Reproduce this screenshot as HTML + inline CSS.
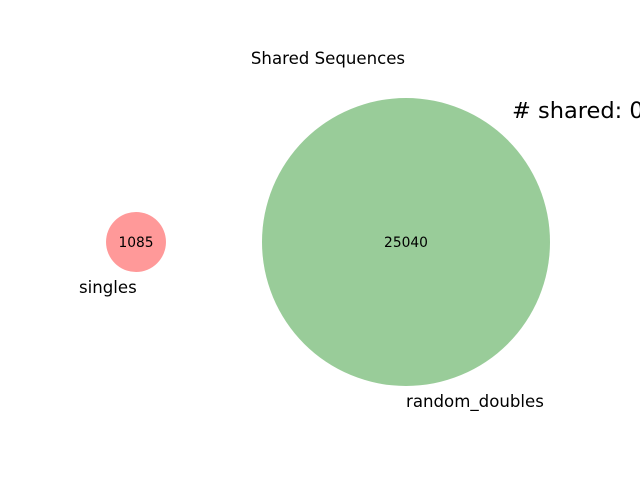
<!DOCTYPE html>
<html><head><meta charset="utf-8"><style>
body{margin:0;background:#fff;}
svg text{font-family:"DejaVu Sans","Liberation Sans",sans-serif;fill:#000;}
</style></head><body>
<svg width="640" height="480" viewBox="0 0 640 480">
<text x="328" y="64" font-size="16.6" text-anchor="middle">Shared Sequences</text>
<text x="512" y="118" font-size="22.5"># shared: 0</text>
<g id="venn"></g>
</svg>
<script>
const setNames = ["singles", "random_doubles"];
const setCounts = [1085, 25040];
const sharedCount = 0;
const colors = ["#ff9999", "#99cc99"];
const g = document.getElementById('venn');
const ns = "http://www.w3.org/2000/svg";
const maxR = 144, cy = 242;
const radii = setCounts.map(c => maxR * Math.sqrt(c / Math.max(...setCounts)));
const centers = [136, 406];
setNames.forEach((name, i) => {
  const c = document.createElementNS(ns, 'circle');
  c.setAttribute('cx', centers[i]); c.setAttribute('cy', cy); c.setAttribute('r', radii[i]);
  c.setAttribute('fill', colors[i]);
  
  
  g.appendChild(c);
  const t = document.createElementNS(ns, 'text');
  t.setAttribute('x', centers[i]); t.setAttribute('y', cy + 5);
  t.setAttribute('font-size', '13.8'); t.setAttribute('text-anchor', 'middle');
  t.textContent = setCounts[i];
  
  
  g.appendChild(t);
  const l = document.createElementNS(ns, 'text');
  l.setAttribute('x', i === 0 ? centers[i] - 57 : centers[i]);
  l.setAttribute('y', cy + radii[i] + 21);
  l.setAttribute('font-size', '16.6');
  l.textContent = name;
  
  
  g.appendChild(l);
});
</script>
</body></html>
